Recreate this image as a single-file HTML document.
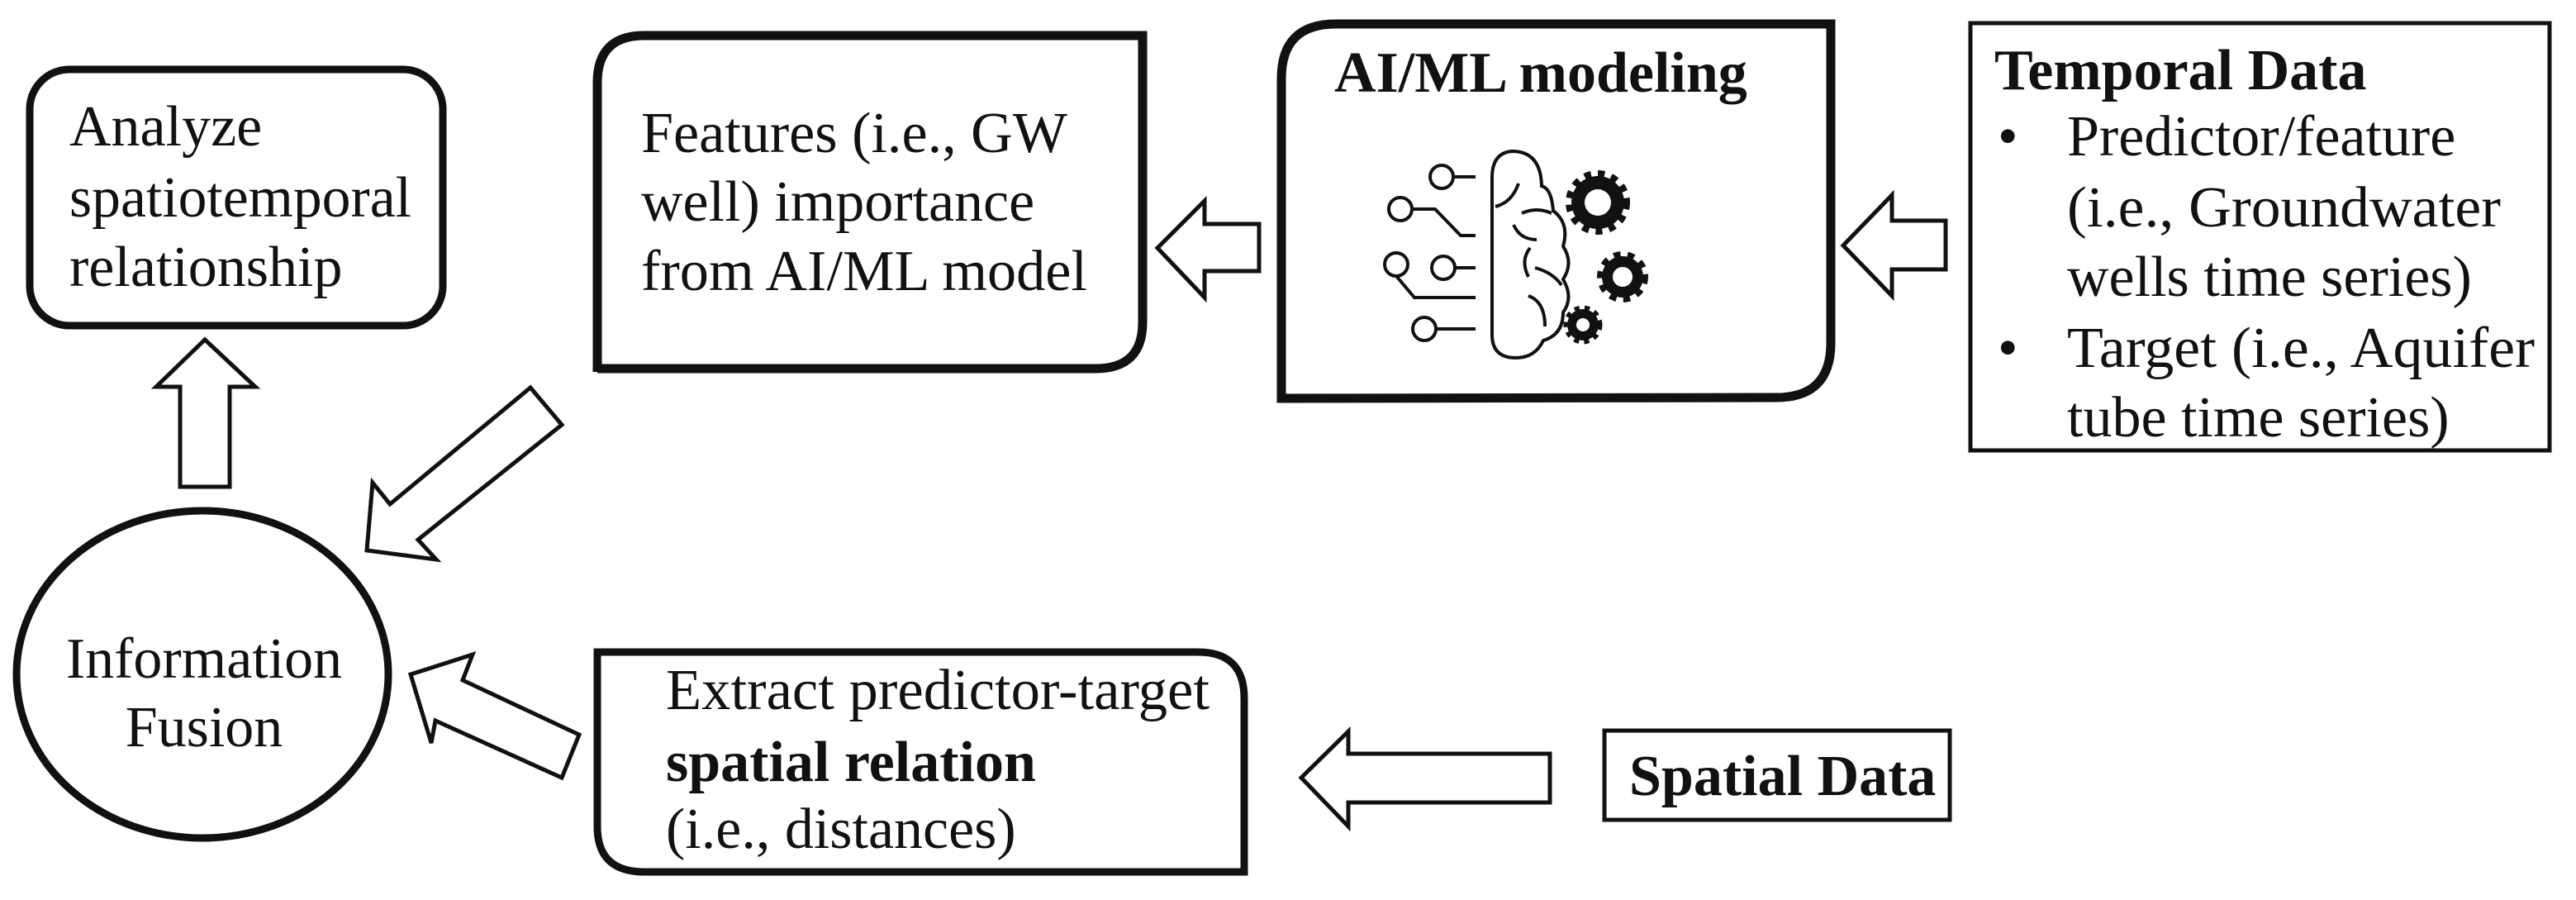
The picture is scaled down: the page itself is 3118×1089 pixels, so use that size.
<!DOCTYPE html>
<html><head><meta charset="utf-8"><style>
html,body{margin:0;padding:0;background:#fff}
svg{display:block}
svg text{font-family:"Liberation Serif","Noto Serif CJK SC","DejaVu Serif",serif;font-size:70px;fill:#111}
.b{font-weight:bold}
</style></head><body>
<svg width="3118" height="1089" viewBox="0 0 3118 1089" xmlns="http://www.w3.org/2000/svg">
<g fill="none" stroke="#111">
<rect x="36" y="84" width="500" height="310" rx="48" stroke-width="9"/>
<path d="M723 450 L723 100 Q723 43 780 43 L1383 43 L1383 390 Q1383 446 1326 446 L723 446 Z" stroke-width="11"/>
<path d="M1551 482 L1551 95 Q1551 29 1617 29 L2216 29 L2216 415 Q2216 481 2150 481 Z" stroke-width="11"/>
<rect x="2385" y="28" width="701" height="517" stroke-width="5"/>
<rect x="1942" y="884" width="418" height="108" stroke-width="5"/>
<path d="M723 789 L1450 789 Q1506 789 1506 845 L1506 1055 L780 1055 Q723 1055 723 1000 Z" stroke-width="9"/>
<ellipse cx="245" cy="816" rx="225" ry="198" stroke-width="9"/>
<polygon points="2231,297 2290,236 2290,267 2355,267 2355,326 2290,326 2290,358" stroke-width="5"/>
<polygon points="1401,300 1458,243 1458,271 1524,271 1524,328 1458,328 1458,360" stroke-width="5"/>
<polygon points="1575,941 1632,885 1632,912 1876,912 1876,971 1632,971 1632,1000" stroke-width="5"/>
<polygon points="248,411 309,468 278,468 278,589 218,589 218,468 189,468" stroke-width="5"/>
<polygon points="444,666 451,584 472,610 642,469 680,514 506,653 528,677" stroke-width="5"/>
<polygon points="497,816 572,792 560,823 701,889 680,941 527,872 522,899" stroke-width="5"/>
<g stroke-width="4">
<path d="M1830 183 Q1806 185 1806 215 L1806 405 Q1806 433 1835 433 Q1858 433 1868 412 Q1892 405 1892 378 Q1905 360 1892 338 Q1905 318 1892 298 Q1900 270 1880 255 Q1878 228 1866 225 Q1865 183 1830 183 Z"/>
<path d="M1838 222 Q1830 245 1810 250"/>
<path d="M1842 258 Q1860 250 1878 258"/>
<path d="M1832 272 Q1840 290 1860 290"/>
<path d="M1852 300 Q1840 315 1850 335"/>
<path d="M1858 324 Q1880 330 1890 345"/>
<path d="M1850 358 Q1870 365 1870 395"/>
<circle cx="1745" cy="214" r="14"/><line x1="1759" y1="214" x2="1786" y2="214"/>
<circle cx="1695" cy="253" r="14"/><polyline points="1709,253 1737,253 1768,285 1786,285"/>
<circle cx="1690" cy="320" r="14"/><polyline points="1690,334 1712,360 1786,360"/>
<circle cx="1747" cy="324" r="14"/><line x1="1761" y1="324" x2="1786" y2="324"/>
<circle cx="1724" cy="398" r="14"/><line x1="1738" y1="398" x2="1786" y2="398"/>
</g>
<g stroke-width="0" fill="#111">
<circle cx="1934" cy="245" r="32"/><circle cx="1964" cy="335" r="25"/><circle cx="1916" cy="393" r="19"/>
</g>
<g stroke="#111" stroke-width="10" stroke-dasharray="8 8">
<circle cx="1934" cy="245" r="34"/><circle cx="1964" cy="335" r="26"/>
</g>
<g stroke="#111" stroke-width="7" stroke-dasharray="6 6"><circle cx="1916" cy="393" r="20"/></g>
<g fill="#fff" stroke="none">
<circle cx="1934" cy="245" r="16"/><circle cx="1964" cy="335" r="12"/><circle cx="1916" cy="393" r="8"/>
</g>
</g>
<g>
<text x="84" y="176">Analyze</text>
<text x="84" y="262" textLength="414" lengthAdjust="spacingAndGlyphs">spatiotemporal</text>
<text x="84" y="346">relationship</text>
<text x="776" y="184" textLength="516" lengthAdjust="spacingAndGlyphs">Features (i.e., GW</text>
<text x="776" y="267">well) importance</text>
<text x="776" y="351" textLength="540" lengthAdjust="spacingAndGlyphs">from AI/ML model</text>
<text x="1615" y="111" class="b">AI/ML modeling</text>
<text x="2414" y="108" class="b">Temporal Data</text>
<text x="2418" y="188">•</text>
<text x="2502" y="188">Predictor/feature</text>
<text x="2502" y="274" textLength="525" lengthAdjust="spacingAndGlyphs">(i.e., Groundwater</text>
<text x="2502" y="358">wells time series)</text>
<text x="2418" y="444">•</text>
<text x="2502" y="444" textLength="566" lengthAdjust="spacingAndGlyphs">Target (i.e., Aquifer</text>
<text x="2502" y="528">tube time series)</text>
<text x="1972" y="962" class="b">Spatial Data</text>
<text x="806" y="858" textLength="658" lengthAdjust="spacingAndGlyphs">Extract predictor-target</text>
<text x="806" y="945" class="b">spatial relation</text>
<text x="806" y="1026">(i.e., distances)</text>
<text x="247" y="820" text-anchor="middle">Information</text>
<text x="247" y="903" text-anchor="middle">Fusion</text>
</g>
</svg>
</body></html>
